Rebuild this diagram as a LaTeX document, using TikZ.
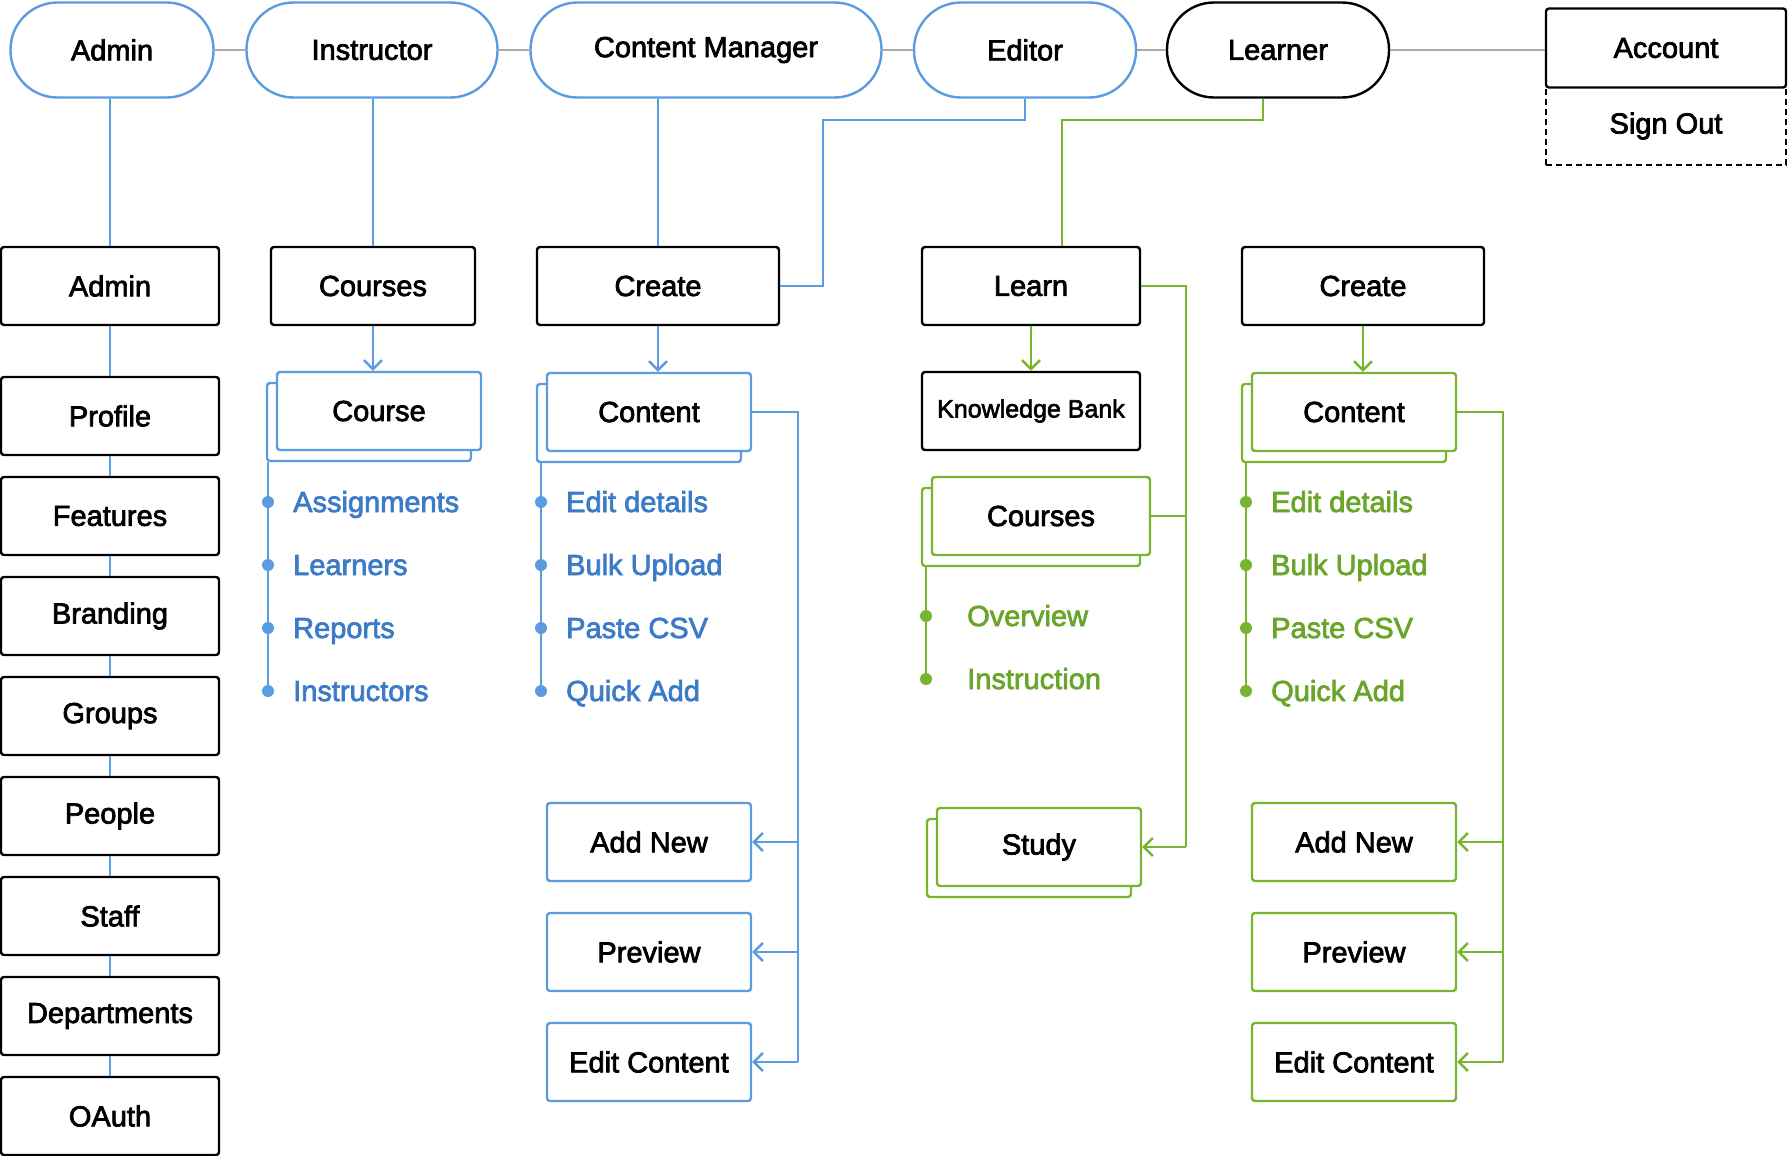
\documentclass[tikz,border=0pt]{standalone}
\usepackage{fontspec}
\setmainfont{Liberation Sans}[UprightFeatures={FakeBold=2.5}]
\usetikzlibrary{arrows.meta, shadows}

\definecolor{roleblue}{HTML}{5B9BE0}
\definecolor{itemblue}{HTML}{3C7BC8}
\definecolor{rolegreen}{HTML}{77B52E}
\definecolor{itemgreen}{HTML}{69A52A}
\definecolor{linkgrey}{HTML}{AAAAAA}

\begin{document}
\begin{tikzpicture}[x=1pt, y=-1pt, >={Straight Barb[length=9pt, width=18pt]},
  every node/.style={font=\fontsize{29}{34}\selectfont},
  rolepill/.style={draw=roleblue, line width=2.4pt, fill=white, rounded corners=47pt,
    minimum height=95pt, inner sep=0pt},
  role learner/.style={draw=black},
  pagebox/.style={draw=black, line width=2.4pt, fill=white, rounded corners=3pt,
    minimum width=218pt, minimum height=78pt, inner sep=0pt},
  plainbox/.style={draw=#1, line width=2.4pt, fill=white, rounded corners=3pt,
    minimum width=204pt, minimum height=78pt, inner sep=0pt},
  stackbox/.style={plainbox=#1, copy shadow={shadow xshift=-10pt, shadow yshift=-11pt,
    draw=#1, fill=white, line width=2.4pt}},
  itemdot/.style={circle, fill=#1, inner sep=0pt, minimum size=12pt},
  itemtext/.style={text=#1, anchor=base west, inner sep=0pt},
  blueline/.style={draw=roleblue, line width=2.4pt},
  greenline/.style={draw=rolegreen, line width=2.4pt},
  link/.style={draw=linkgrey, line width=2.4pt}]
\useasboundingbox (0,0) rectangle (1788,1156);

\foreach \n/\t/\c/\w in {admin/Admin/112/203, instr/Instructor/372/251,
    cm/Content Manager/706/351, editor/Editor/1025/222, learner/Learner/1278/222}
  \node [rolepill, role \n/.try, minimum width=\w] (role-\n) at (\c, 50) {\t};

\foreach \a/\b in {admin/instr, instr/cm, cm/editor, editor/learner}
  \draw [link] (role-\a) -- (role-\b);

\node [pagebox, dashed, dash pattern=on 6pt off 4pt, rounded corners=0pt, minimum width=240pt]
  (signout) at (1666, 126) {Sign Out};
\node [pagebox, minimum width=240pt, minimum height=79pt] (account) at (1666, 48) {Account};
\draw [link] (role-learner.east) -- (role-learner.east -| account.west);

\node [pagebox] (admin-0) at (110, 286) {Admin};
\foreach \t [count=\i] in {Profile, Features, Branding, Groups, People, Staff, Departments, OAuth}
  \node [pagebox] (admin-\i) at (110, 316+100*\i) {\t};

\draw [blueline] (admin-0.north) -- (admin-0.north |- role-admin.south);
\foreach \i [count=\j from 0] in {1,...,8}
  \draw [blueline] (admin-\j) -- (admin-\i);

\node [pagebox, minimum width=204pt] (courses) at (373, 286) {Courses};
\node [stackbox=roleblue] (course) at (379, 411) {Course};
\draw [blueline] (courses.north) -- (courses.north |- role-instr.south);
\draw [blueline, ->] (courses.south) -- (courses.south |- course.north);

\foreach \t [count=\i] in {Assignments, Learners, Reports, Instructors} {
  \node [itemdot=roleblue] (course-dot-\i) at (268, 439+63*\i) {};
  \node [itemtext=itemblue] (course-item-\i) at (293, 449+63*\i) {\t};
}
\path ([yshift=-11pt]course.south) coordinate (course-back);
\draw [blueline] (course-dot-4 |- course-back) -- (course-dot-4);

\node [pagebox, minimum width=242pt] (create) at (658, 286) {Create};
\node [stackbox=roleblue] (content) at (649, 412) {Content};
\draw [blueline] (create.north) -- (create.north |- role-cm.south);
\draw [blueline, ->] (create.south) -- (create.south |- content.north);
\draw [blueline] (role-editor.south) -- ++(0,21) -| ([xshift=43pt]create.east) -- (create.east);

\foreach \t [count=\i] in {Edit details, Bulk Upload, Paste CSV, Quick Add} {
  \node [itemdot=roleblue] (content-dot-\i) at (541, 439+63*\i) {};
  \node [itemtext=itemblue] (content-item-\i) at (566, 449+63*\i) {\t};
}
\path ([yshift=-11pt]content.south) coordinate (content-back);
\draw [blueline] (content-dot-4 |- content-back) -- (content-dot-4);

\foreach \t [count=\i] in {Add New, Preview, Edit Content}
  \node [plainbox=roleblue] (content-out-\i) at (649, 732+110*\i) {\t};
\draw [blueline] (content.east) -- ++(46,0) coordinate (content-bus)
  -- (content-bus |- content-out-3.east);
\foreach \i in {1,2,3}
  \draw [blueline, ->] (content-bus |- content-out-\i.east) -- (content-out-\i.east);

\node [pagebox] (learn) at (1031, 286) {Learn};
\node [pagebox, font=\fontsize{25}{30}\selectfont] (kbank) at (1031, 411) {Knowledge Bank};
\node [stackbox=rolegreen, minimum width=218pt] (lcourses) at (1041, 516) {Courses};
\node [stackbox=rolegreen] (study) at (1039, 847) {Study};
\draw [greenline] ([xshift=-15pt]role-learner.south) -- ++(0,21) -| ([xshift=31pt]learn.north);
\draw [greenline, ->] (learn) -- (kbank);

\foreach \t [count=\i] in {Overview, Instruction} {
  \node [itemdot=rolegreen] (lcourses-dot-\i) at (926, 553+63*\i) {};
  \node [itemtext=itemgreen] (lcourses-item-\i) at (967, 563+63*\i) {\t};
}
\path ([yshift=-11pt]lcourses.south) coordinate (lcourses-back);
\draw [greenline] (lcourses-dot-2 |- lcourses-back) -- (lcourses-dot-2);

\draw [greenline] (learn.east) -- ++(45,0) coordinate (learn-bus) -- (learn-bus |- study.east);
\draw [greenline] (learn-bus |- lcourses.east) -- (lcourses.east);
\draw [greenline, ->] (learn-bus |- study.east) -- (study.east);

\node [pagebox, minimum width=242pt] (create2) at (1363, 286) {Create};
\node [stackbox=rolegreen] (content2) at (1354, 412) {Content};
\draw [greenline, ->] (create2.south) -- (create2.south |- content2.north);

\foreach \t [count=\i] in {Edit details, Bulk Upload, Paste CSV, Quick Add} {
  \node [itemdot=rolegreen] (content2-dot-\i) at (1246, 439+63*\i) {};
  \node [itemtext=itemgreen] (content2-item-\i) at (1271, 449+63*\i) {\t};
}
\path ([yshift=-11pt]content2.south) coordinate (content2-back);
\draw [greenline] (content2-dot-4 |- content2-back) -- (content2-dot-4);

\foreach \t [count=\i] in {Add New, Preview, Edit Content}
  \node [plainbox=rolegreen] (content2-out-\i) at (1354, 732+110*\i) {\t};
\draw [greenline] (content2.east) -- ++(46,0) coordinate (content2-bus)
  -- (content2-bus |- content2-out-3.east);
\foreach \i in {1,2,3}
  \draw [greenline, ->] (content2-bus |- content2-out-\i.east) -- (content2-out-\i.east);
\end{tikzpicture}
\end{document}
